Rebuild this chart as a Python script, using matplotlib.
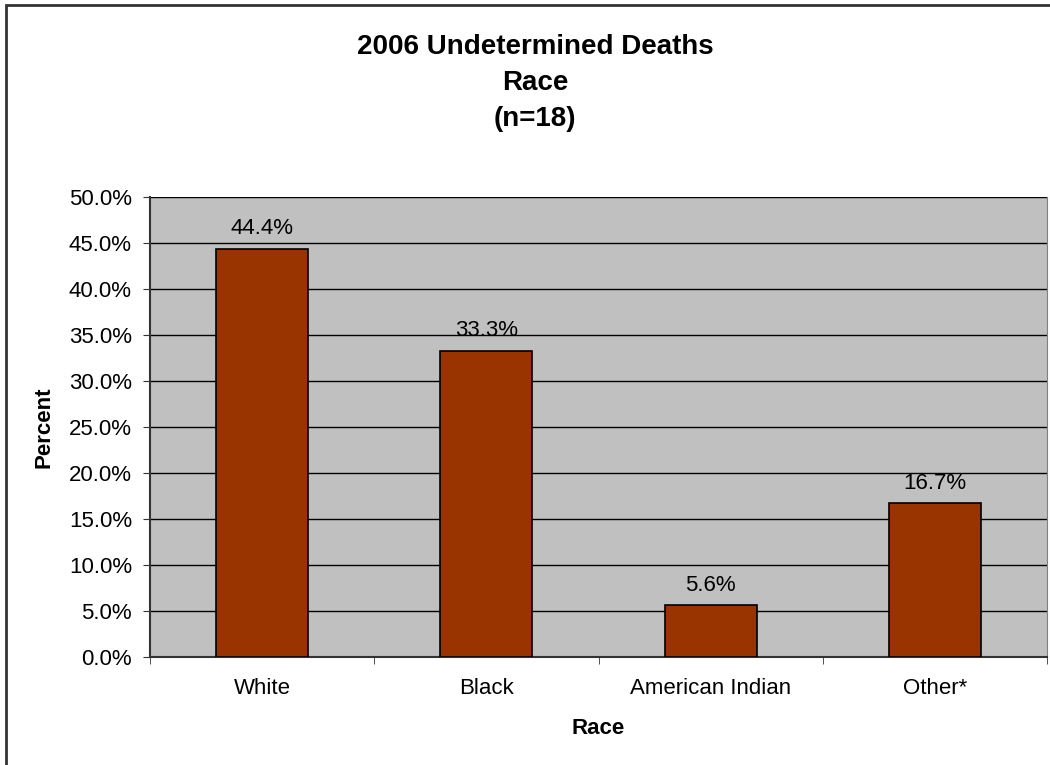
import matplotlib
matplotlib.use("Agg")
import matplotlib.pyplot as plt
from matplotlib.patches import Rectangle
from matplotlib.ticker import FuncFormatter, MultipleLocator
import numpy as np

races = ["White", "Black", "American Indian", "Other*"]
percents = [44.4, 33.3, 5.6, 16.7]
title_lines = ["2006 Undetermined Deaths", "Race", "(n=18)"]

plt.rcParams['font.family'] = ['Liberation Sans', 'DejaVu Sans']

fig = plt.figure(figsize=(10.5, 7.65), dpi=100)
W, H = 1050, 765
ax = fig.add_axes([150 / W, 1 - 657 / H, (1047 - 150) / W, (657 - 197) / H])

# outer chart border (runs off the right/bottom edge like the source)
fig.patches.append(Rectangle((6 / W, -0.1), 1.2, 1 - 5 / H + 0.1, transform=fig.transFigure,
                             fill=False, edgecolor='#333333', linewidth=2))

x = np.arange(len(races))
ax.set_facecolor('#C0C0C0')
ax.bar(x, percents, width=0.41, color='#993300', edgecolor='black', linewidth=1.2, zorder=3)
for xi, v in zip(x, percents):
    ax.text(xi, v + 2.2, f"{v:.1f}%", ha='center', va='center', fontsize=16, zorder=4)

ax.set_xlim(-0.5, len(races) - 0.5)
ax.set_ylim(0, 50)
ax.yaxis.set_major_locator(MultipleLocator(5))
ax.yaxis.set_major_formatter(FuncFormatter(lambda v, _: f"{v:.1f}%"))
ax.grid(axis='y', color='black', linewidth=1, zorder=1)
ax.set_axisbelow(True)

ax.set_xticks(x)
ax.set_xticklabels(races, fontsize=16)
ax.set_xticks(np.arange(-0.5, len(races)), minor=True)
ax.tick_params(axis='x', which='major', length=0, pad=15)
ax.tick_params(axis='x', which='minor', length=5, direction='out', color='#333333')
ax.tick_params(axis='y', length=5, direction='out', labelsize=16, pad=8, color='#333333')

for side in ['left', 'bottom']:
    ax.spines[side].set_color('#333333')
    ax.spines[side].set_linewidth(1.5)
ax.spines['right'].set_color('#808080')
ax.spines['top'].set_visible(False)

ax.set_xlabel("Race", fontsize=16, fontweight='bold', labelpad=14)
ax.set_ylabel("Percent", fontsize=16, fontweight='bold', labelpad=10)

for i, line in enumerate(title_lines):
    fig.text(535 / W, 1 - (47 + 36 * i) / H, line, ha='center', va='center',
             fontsize=20, fontweight='bold')

fig.savefig("out.png", dpi=100)
